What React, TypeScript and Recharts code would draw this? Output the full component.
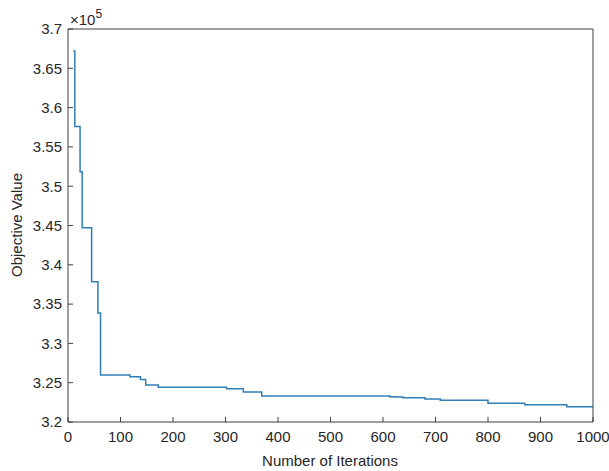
import { LineChart, Line, XAxis, YAxis } from "recharts";

// iteration where each level starts (step after)
const iterations = [10, 13, 23, 27, 45, 57, 62, 118, 138, 148, 172, 302, 334, 369, 613, 625, 638, 680, 709, 800, 870, 950, 1000];
// objective value at that iteration
const objective = [
  367200, 357600, 351850, 344700, 337850, 333870, 325980, 325750, 325400, 324700, 324420,
  324240, 323820, 323310, 323220, 323180, 323100, 322930, 322760, 322380, 322200, 321950, 321950,
];

const xTicks = [0, 100, 200, 300, 400, 500, 600, 700, 800, 900, 1000];
const yTicks = [320000, 325000, 330000, 335000, 340000, 345000, 350000, 355000, 360000, 365000, 370000];

const data = iterations.map((it, i) => ({ it, value: objective[i] }));

const axisColor = "#404040";
const textColor = "#262626";
const font = "'Liberation Sans', Arial, sans-serif";

const App = () => {
  return (
    <div style={{ position: "absolute", left: 0, top: 0, background: "#fff" }}>
      <LineChart
        width={609}
        height={471}
        data={data}
        margin={{ top: 28, right: 15, bottom: 0, left: 18 }}
        style={{ fontFamily: font }}
      >
        <XAxis
          dataKey="it"
          type="number"
          domain={[0, 1000]}
          ticks={xTicks}
          height={49}
          stroke={axisColor}
          tickSize={-5}
          tickMargin={14}
          tick={{ fill: textColor, fontSize: 15 }}
          interval={0}
          label={{
            content: () => (
              <text x={330} y={466} textAnchor="middle" fill={textColor} fontSize={15}>
                Number of Iterations
              </text>
            ),
          }}
        />
        <XAxis
          xAxisId="top"
          orientation="top"
          dataKey="it"
          type="number"
          domain={[0, 1000]}
          ticks={xTicks}
          height={1}
          stroke={axisColor}
          tickSize={-5}
          tick={false}
          interval={0}
        />
        <YAxis
          type="number"
          domain={[320000, 370000]}
          ticks={yTicks}
          width={50}
          stroke={axisColor}
          tickSize={-5}
          tickMargin={11}
          interval={0}
          tick={{ fill: textColor, fontSize: 15 }}
          tickFormatter={(v) => String(+(v / 100000).toFixed(2))}
          label={{
            content: () => (
              <g>
                <text
                  x={16}
                  y={225}
                  transform="rotate(-90 16 225)"
                  textAnchor="middle"
                  dominantBaseline="central"
                  fill={textColor}
                  fontSize={15}
                >
                  Objective Value
                </text>
                <text x={70} y={25} fill={textColor} fontSize={15}>
                  ×10<tspan dy={-7} fontSize={12}>5</tspan>
                </text>
              </g>
            ),
          }}
        />
        <YAxis
          yAxisId="right"
          orientation="right"
          type="number"
          domain={[320000, 370000]}
          ticks={yTicks}
          width={1}
          stroke={axisColor}
          tickSize={-5}
          tick={false}
          interval={0}
        />
        <Line
          type="stepAfter"
          dataKey="value"
          stroke="#2f7fb5"
          strokeWidth={1.5}
          dot={false}
          isAnimationActive={false}
        />
      </LineChart>
    </div>
  );
};

export default App;
